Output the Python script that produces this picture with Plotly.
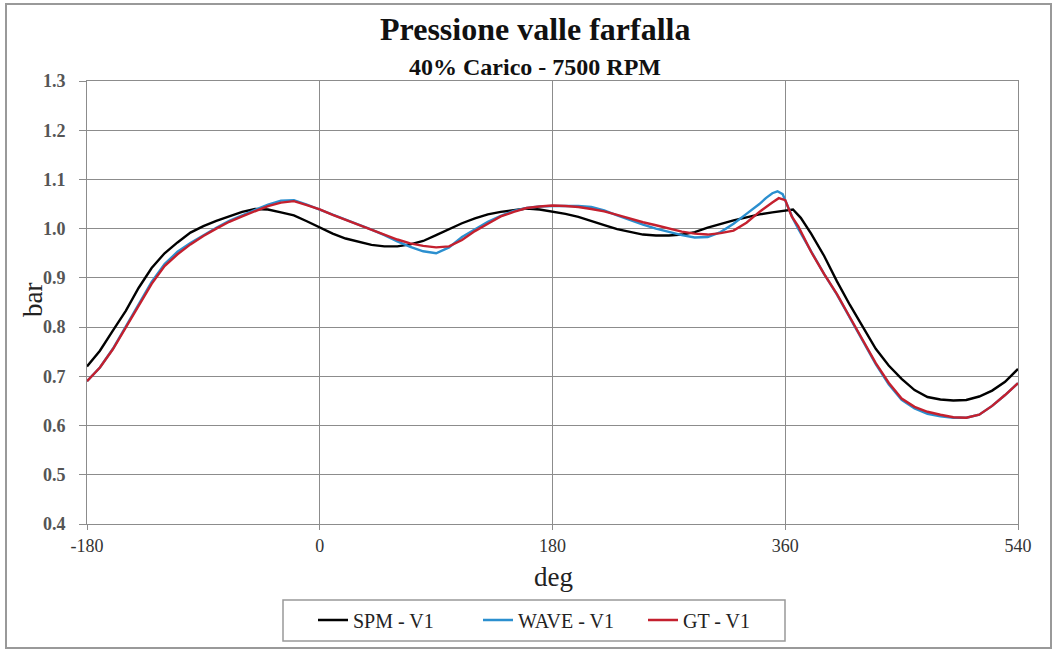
import plotly.graph_objects as go

# ---- data ----
deg_spm = [-180, -170, -160, -150, -140, -130, -120, -110, -100, -90, -80, -70, -60, -50, -40, -30, -20, -10,
           0, 10, 20, 30, 40, 50, 60, 70, 80, 90, 100, 110, 120, 130, 140, 150, 160, 170, 180, 190, 200,
           210, 220, 230, 240, 250, 260, 270, 280, 290, 300, 310, 320, 330, 340, 350, 360, 366, 372, 380,
           390, 400, 410, 420, 430, 440, 450, 460, 470, 480, 490, 500, 510, 520, 530, 540]
bar_spm = [0.720, 0.752, 0.793, 0.833, 0.880, 0.920, 0.950, 0.972, 0.992, 1.005, 1.016, 1.025, 1.034, 1.040,
           1.039, 1.033, 1.027, 1.015, 1.003, 0.990, 0.980, 0.973, 0.967, 0.964, 0.964, 0.968, 0.975, 0.987,
           0.999, 1.011, 1.021, 1.029, 1.034, 1.038, 1.041, 1.039, 1.035, 1.030, 1.024, 1.015, 1.007, 0.999,
           0.993, 0.988, 0.986, 0.986, 0.988, 0.993, 1.002, 1.010, 1.017, 1.023, 1.029, 1.033, 1.036, 1.039,
           1.022, 0.990, 0.945, 0.893, 0.845, 0.800, 0.756, 0.722, 0.695, 0.672, 0.658, 0.653, 0.651, 0.652,
           0.659, 0.671, 0.689, 0.715]

deg_wave = [-180, -170, -160, -150, -140, -130, -120, -110, -100, -90, -80, -70, -60, -50, -40, -30, -20, -10,
            0, 10, 20, 30, 40, 50, 60, 70, 80, 90, 100, 110, 120, 130, 140, 150, 160, 170, 180, 190, 200,
            210, 220, 230, 240, 250, 260, 270, 280, 290, 300, 310, 320, 330, 340, 345, 350, 354, 358, 362,
            366, 370, 380, 390, 400, 410, 420, 430, 440, 450, 460, 470, 480, 490, 500, 510, 520, 530, 540]
bar_wave = [0.690, 0.718, 0.756, 0.802, 0.848, 0.892, 0.928, 0.953, 0.971, 0.987, 1.002, 1.016, 1.027, 1.038,
            1.049, 1.057, 1.058, 1.049, 1.039, 1.028, 1.018, 1.008, 0.998, 0.987, 0.974, 0.963, 0.954, 0.950,
            0.962, 0.983, 0.999, 1.014, 1.026, 1.036, 1.042, 1.045, 1.046, 1.046, 1.046, 1.044, 1.037, 1.027,
            1.017, 1.008, 1.000, 0.993, 0.987, 0.982, 0.983, 0.993, 1.010, 1.030, 1.050, 1.062, 1.072, 1.076,
            1.070, 1.045, 1.020, 1.000, 0.953, 0.908, 0.866, 0.819, 0.771, 0.725, 0.684, 0.652, 0.635, 0.624,
            0.619, 0.616, 0.616, 0.622, 0.640, 0.662, 0.686]

deg_gt = [-180, -170, -160, -150, -140, -130, -120, -110, -100, -90, -80, -70, -60, -50, -40, -30, -20, -10,
          0, 10, 20, 30, 40, 50, 60, 70, 80, 90, 100, 110, 120, 130, 140, 150, 160, 170, 180, 190, 200,
          210, 220, 230, 240, 250, 260, 270, 280, 290, 300, 310, 320, 330, 340, 350, 355, 360, 365, 370,
          380, 390, 400, 410, 420, 430, 440, 450, 460, 470, 480, 490, 500, 510, 520, 530, 540]
bar_gt = [0.690, 0.718, 0.755, 0.800, 0.845, 0.888, 0.924, 0.948, 0.968, 0.985, 1.000, 1.014, 1.025, 1.035,
          1.046, 1.053, 1.056, 1.048, 1.039, 1.028, 1.018, 1.008, 0.998, 0.988, 0.978, 0.970, 0.965, 0.962,
          0.964, 0.977, 0.995, 1.010, 1.025, 1.034, 1.042, 1.045, 1.047, 1.046, 1.044, 1.040, 1.035, 1.028,
          1.020, 1.013, 1.007, 1.000, 0.994, 0.990, 0.988, 0.991, 0.996, 1.012, 1.034, 1.053, 1.062, 1.058,
          1.025, 1.005, 0.953, 0.908, 0.867, 0.820, 0.773, 0.727, 0.687, 0.655, 0.638, 0.628, 0.622, 0.617,
          0.616, 0.622, 0.640, 0.662, 0.686]

x_ticks = [-180, 0, 180, 360, 540]
x_tick_text = ["-180", "0", "180", "360", "540"]
y_ticks = [0.4, 0.5, 0.6, 0.7, 0.8, 0.9, 1.0, 1.1, 1.2, 1.3]

SERIF = "Liberation Serif, Times New Roman, serif"
GRID = "#8c8c8c"

fig = go.Figure()
fig.add_trace(go.Scatter(x=deg_spm, y=bar_spm, mode="lines", name="SPM - V1",
                         line=dict(color="#000000", width=2.4)))
fig.add_trace(go.Scatter(x=deg_wave, y=bar_wave, mode="lines", name="WAVE - V1",
                         line=dict(color="#2b8fcf", width=2.4)))
fig.add_trace(go.Scatter(x=deg_gt, y=bar_gt, mode="lines", name="GT - V1",
                         line=dict(color="#c4202e", width=2.4)))

L, R, T, B = 87, 38, 81, 127
W, H = 1056, 651
pw, ph = W - L - R, H - T - B


def px(xp):
    return (xp - L) / pw


def py(yp):
    return (H - B - yp) / ph


fig.update_layout(
    width=W, height=H,
    margin=dict(l=L, r=R, t=T, b=B, pad=0),
    paper_bgcolor="white", plot_bgcolor="white",
    font=dict(family=SERIF, color="#222"),
    showlegend=True,
    legend=dict(orientation="h", x=px(313), y=py(620), xanchor="left", yanchor="middle",
                font=dict(family=SERIF, size=20, color="#222"), bgcolor="rgba(0,0,0,0)",
                itemwidth=30, traceorder="normal", entrywidth=120, entrywidthmode="pixels"),
    xaxis=dict(range=[-180, 540], tickvals=x_ticks, ticktext=x_tick_text, showgrid=True,
               gridcolor=GRID, gridwidth=1,
               showline=True, linecolor=GRID, linewidth=1, mirror=True, zeroline=False,
               ticks="outside", ticklen=5, tickcolor=GRID,
               tickfont=dict(family=SERIF, size=18, color="#333")),
    yaxis=dict(range=[0.4, 1.3], tickvals=y_ticks, tickformat=".1f", showgrid=True, gridcolor=GRID,
               gridwidth=1, showline=True, linecolor=GRID, linewidth=1, mirror=True, zeroline=False,
               ticks="outside", ticklen=7, tickcolor=GRID, ticklabelstandoff=10,
               tickfont=dict(family=SERIF, size=18, color="#555", weight="bold")),
    annotations=[
        dict(text="<b>Pressione valle farfalla</b>", x=px(535), y=py(29), xref="paper", yref="paper",
             showarrow=False, xanchor="center", yanchor="middle",
             font=dict(family=SERIF, size=32, color="#111")),
        dict(text="<b>40% Carico - 7500 RPM</b>", x=px(535), y=py(67), xref="paper", yref="paper",
             showarrow=False, xanchor="center", yanchor="middle",
             font=dict(family=SERIF, size=24, color="#111")),
        dict(text="deg", x=px(553), y=py(577), xref="paper", yref="paper", showarrow=False,
             xanchor="center", yanchor="middle", font=dict(family=SERIF, size=27, color="#222")),
        dict(text="bar", x=px(33), y=py(300), xref="paper", yref="paper", showarrow=False,
             textangle=-90, xanchor="center", yanchor="middle",
             font=dict(family=SERIF, size=27, color="#222")),
    ],
    shapes=[
        dict(type="rect", xref="paper", yref="paper", x0=px(283), x1=px(785), y0=py(641), y1=py(600),
             line=dict(color="#999", width=1.5), fillcolor="rgba(0,0,0,0)", layer="below"),
        dict(type="rect", xref="paper", yref="paper", x0=px(6), x1=px(1051), y0=py(648), y1=py(4),
             line=dict(color="#999", width=2), fillcolor="rgba(0,0,0,0)", layer="below"),
    ],
)

fig.write_html("out.html")
